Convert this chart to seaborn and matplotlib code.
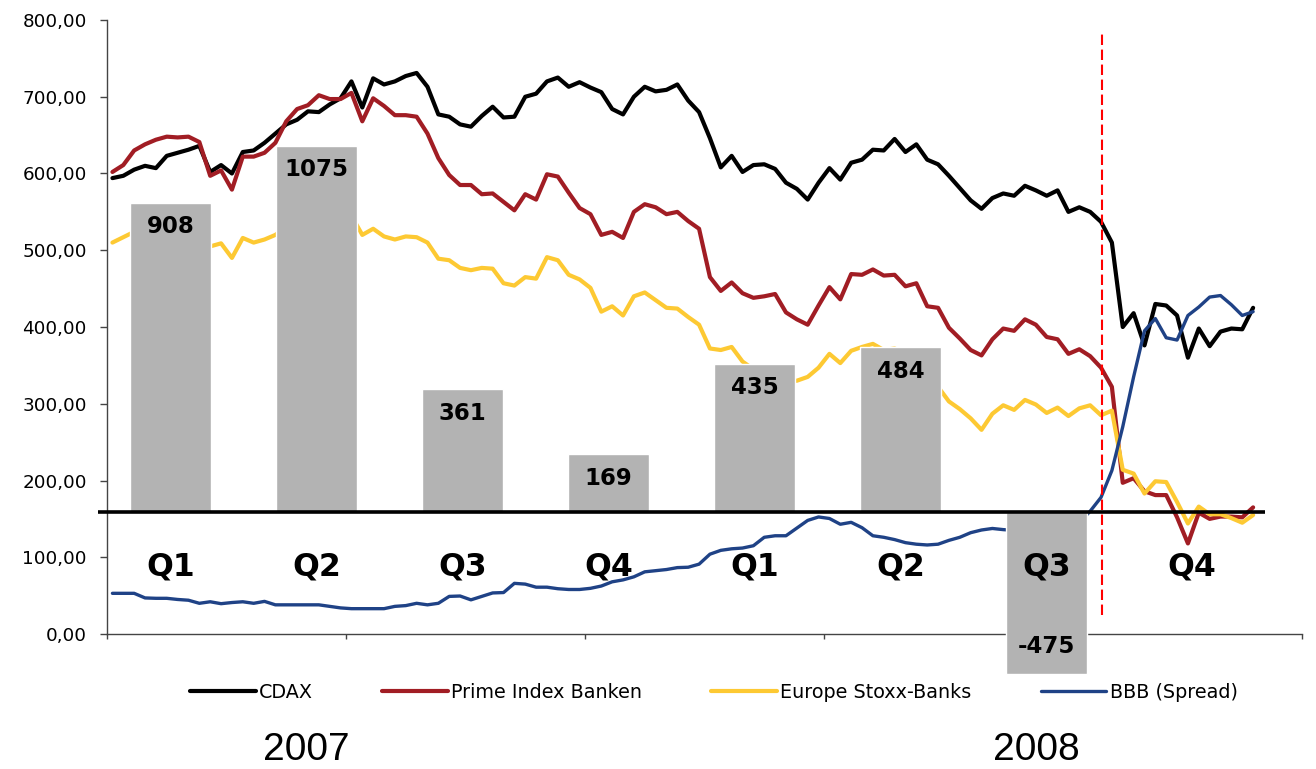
import numpy as np
import pandas as pd
import seaborn as sns
import matplotlib.pyplot as plt
from matplotlib.transforms import blended_transform_factory

# weekly index levels, Jan 2007 - Nov 2008
cdax = [594, 597, 605, 610, 607, 623, 627, 631, 636, 602,
        611, 600, 628, 630, 640, 652, 664, 670, 681, 680,
        690, 698, 720, 686, 724, 716, 720, 727, 731, 713,
        677, 674, 664, 661, 675, 687, 673, 674, 700, 704,
        720, 725, 713, 719, 712, 706, 684, 677, 700, 713,
        707, 709, 716, 695, 680, 646, 608, 623, 602, 611,
        612, 606, 588, 580, 566, 588, 607, 592, 614, 618,
        631, 630, 645, 628, 638, 618, 612, 597, 581, 565,
        554, 568, 574, 571, 584, 578, 571, 578, 550, 556,
        550, 537, 510, 400, 418, 376, 430, 428, 415, 360,
        398, 375, 394, 398, 397, 425]
prime_banken = [602, 611, 630, 638, 644, 648, 647, 648, 641, 597,
                604, 579, 622, 622, 627, 640, 668, 684, 689, 702,
                697, 697, 705, 668, 698, 688, 676, 676, 674, 652,
                620, 598, 585, 585, 573, 574, 563, 552, 573, 566,
                599, 596, 575, 555, 547, 520, 524, 516, 550, 560,
                556, 547, 550, 538, 528, 465, 447, 458, 444, 438,
                440, 443, 419, 410, 403, 428, 452, 436, 469, 468,
                475, 467, 468, 453, 457, 427, 425, 399, 385, 370,
                363, 384, 398, 395, 410, 403, 387, 384, 365, 371,
                362, 347, 322, 197, 203, 186, 181, 181, 152, 118,
                158, 150, 153, 153, 152, 165]
stoxx_banks = [510, 517, 524, 530, 532, 535, 534, 535, 530, 505,
               509, 490, 516, 510, 514, 520, 530, 534, 538, 545,
               540, 542, 545, 520, 528, 518, 514, 518, 517, 510,
               489, 487, 477, 474, 477, 476, 457, 454, 465, 463,
               491, 487, 468, 462, 451, 420, 427, 415, 440, 445,
               435, 425, 424, 413, 403, 372, 370, 374, 355, 345,
               340, 348, 330, 330, 335, 347, 365, 353, 369, 374,
               378, 370, 372, 365, 355, 345, 322, 303, 293, 281,
               266, 287, 298, 292, 305, 299, 288, 295, 284, 294,
               298, 285, 291, 214, 209, 183, 199, 198, 172, 144,
               166, 156, 156, 151, 145, 155]
bbb_spread = [53, 53, 53, 47, 46.5, 46.5, 45, 44, 40, 42,
              39.5, 41, 42, 40, 42.5, 38, 38, 38, 38, 38,
              36, 34, 33, 33, 33, 33, 36, 37, 40, 38,
              40, 49, 49.5, 44.5, 49, 53.5, 54, 66, 65, 61,
              61, 59, 58, 58, 59.5, 62.5, 68, 70.5, 74.5, 81,
              82.5, 84, 86.5, 87, 91, 104, 109, 111, 112, 115,
              126, 128, 128, 138, 148, 152.5, 150.5, 143, 145.5, 138.5,
              128, 126, 123, 119, 117, 116, 117, 122, 126, 132,
              135.5, 137.5, 136, 135, 133, 131, 130, 131, 135, 145,
              160, 178, 213, 270, 335, 395, 411, 386, 383, 415,
              426, 439, 441, 429, 415, 420]

# quarterly bars
quarters = ["Q1", "Q2", "Q3", "Q4", "Q1", "Q2", "Q3", "Q4"]
quarter_years = ["2007"] * 4 + ["2008"] * 4
net_values = [908, 1075, 361, 169, 435, 484, -475, np.nan]

y_ticks = [0, 100, 200, 300, 400, 500, 600, 700, 800]
years = ["2007", "2008"]
lehman_week = 91.1

sns.set_style("ticks")
plt.rcParams["font.family"] = ["DejaVu Sans"]
plt.rcParams["text.color"] = "black"
plt.rcParams["axes.labelcolor"] = "black"

W, H = 1316, 769
fig = plt.figure(figsize=(W / 100, H / 100), dpi=100)
ax = fig.add_axes([107 / W, 1 - 634 / H, 1195 / W, 614 / H])
ax2 = fig.add_axes([98 / W, 1 - 634 / H, 1167 / W, 614 / H])

df = pd.DataFrame({
    "week": np.arange(len(cdax)),
    "CDAX": cdax,
    "Prime Index Banken": prime_banken,
    "Europe Stoxx-Banks": stoxx_banks,
    "BBB (Spread)": bbb_spread,
})

series = [("CDAX", "#000000", 3.0),
          ("Prime Index Banken", "#a11d24", 3.0),
          ("Europe Stoxx-Banks", "#fdc933", 3.0),
          ("BBB (Spread)", "#1f4286", 2.4)]
for name, col, lw in series:
    sns.lineplot(data=df, x="week", y=name, ax=ax, color=col,
                 linewidth=lw, label=name, legend=False)

ax.set_xlim(-0.5, 109.5)
ax.set_ylim(0, 800)
ax.set_xticks(np.arange(-0.5, 110, 22))
ax.set_xticklabels([])
ax.set_yticks(y_ticks)
ax.yaxis.set_major_formatter(lambda v, p: f"{v:.2f}".replace(".", ","))
ax.set_xlabel("")
ax.set_ylabel("")
for s in ["top", "right"]:
    ax.spines[s].set_visible(False)
for s in ["left", "bottom"]:
    ax.spines[s].set_color("#444444")
    ax.spines[s].set_linewidth(1)
ax.tick_params(axis="y", direction="out", length=5, width=1, color="#444444",
               labelsize=13.2, labelcolor="black", pad=9.5)
ax.tick_params(axis="x", direction="out", length=3.6, width=1, color="#444444")

ax.axvline(lehman_week, ymin=0.031, ymax=0.984, color="#ff0000", lw=1.5,
           ls=(0, (5, 2.2)), zorder=5)

# bars on their own scale, drawn over the lines
bars = pd.DataFrame({"quarter": [f"{y} {q}" for y, q in zip(quarter_years, quarters)],
                     "net": net_values})
sns.barplot(data=bars, x="quarter", y="net", ax=ax2, color="#b3b3b3",
            saturation=1, width=0.556, errorbar=None)
for p in ax2.patches:
    p.set_clip_on(False)
ax2.set_xlim(-0.5, 7.5)
ax2.set_ylim(-358.2, 1444.5)
ax2.axhline(0, color="black", lw=2.6)
ax2.axis("off")

for j, v in enumerate(net_values):
    if np.isnan(v):
        continue
    ax2.annotate(f"{v:.0f}", xy=(j, v), xytext=(0, -17.3 if v > 0 else 19.4),
                 textcoords="offset points", ha="center", va="center",
                 fontsize=16.5, fontweight="bold", color="black",
                 annotation_clip=False)

trans = blended_transform_factory(ax2.transData, ax.transData)
for j, q in enumerate(quarters):
    ax2.text(j, 87.3, q, transform=trans, ha="center", va="center",
             fontsize=22.7, fontweight="bold", color="black", zorder=6)

handles, labels = ax.get_legend_handles_labels()
leg = fig.legend(handles, labels, loc="center", bbox_to_anchor=(714 / W, 1 - 692 / H),
                 ncol=4, frameon=False, fontsize=13.8, handlelength=3.4,
                 handletextpad=0.2, columnspacing=3.6)
for t in leg.get_texts():
    t.set_color("black")

for yr, xc in zip(years, [306, 1036]):
    fig.text(xc / W, 1 - 750 / H, yr, ha="center", va="center",
             fontsize=28, family="Liberation Sans", color="black")

fig.savefig("out.png", dpi=100)
